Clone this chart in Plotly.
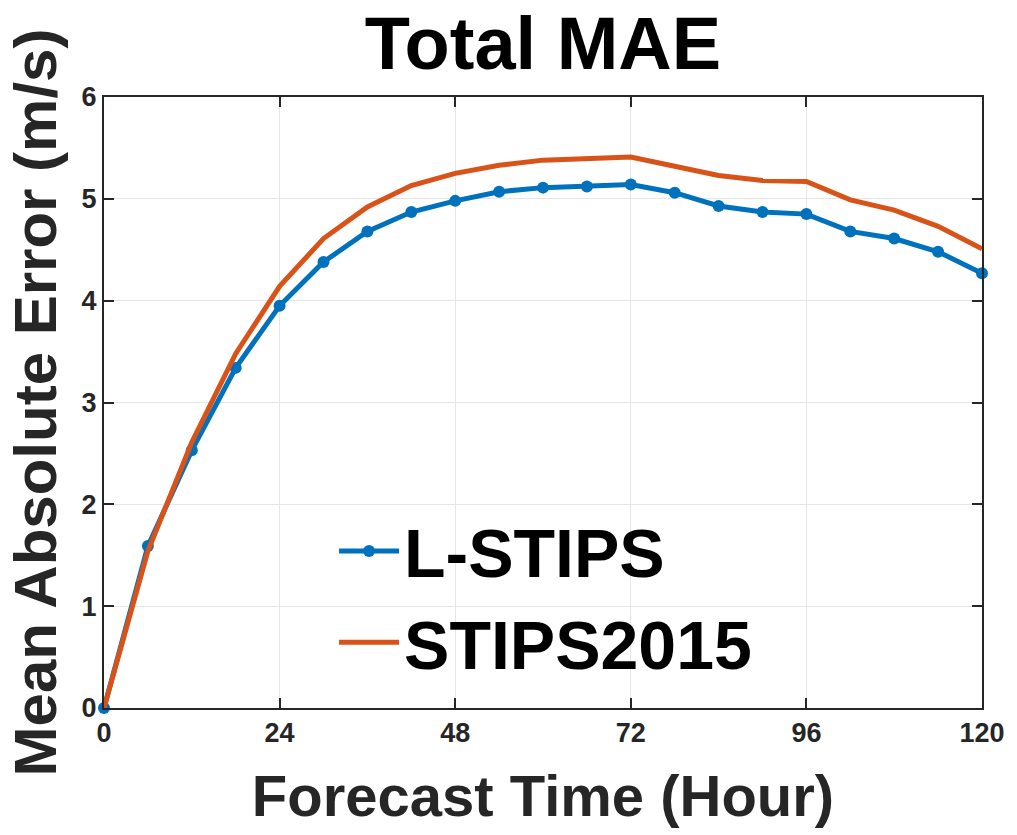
import plotly.graph_objects as go

hours = [0, 6, 12, 18, 24, 30, 36, 42, 48, 54, 60, 66, 72, 78, 84, 90, 96, 102, 108, 114, 120]
l_stips = [0, 1.59, 2.53, 3.34, 3.95, 4.38, 4.68, 4.87, 4.98, 5.07, 5.11, 5.12, 5.14,
           5.06, 4.93, 4.87, 4.85, 4.68, 4.61, 4.48, 4.27]
stips2015 = [0, 1.54, 2.61, 3.48, 4.14, 4.61, 4.92, 5.13, 5.25, 5.33, 5.38, 5.39, 5.41,
             5.32, 5.23, 5.18, 5.17, 4.99, 4.89, 4.73, 4.51]
x_ticks = [0, 24, 48, 72, 96, 120]
y_ticks = [0, 1, 2, 3, 4, 5, 6]

FONT = "Liberation Sans, Arial, sans-serif"

fig = go.Figure()
fig.add_trace(go.Scatter(
    x=hours, y=l_stips, name="L-STIPS", mode="lines+markers",
    line=dict(color="#0072BD", width=5), marker=dict(color="#0072BD", size=12),
    cliponaxis=False,
))
fig.add_trace(go.Scatter(
    x=hours, y=stips2015, name="STIPS2015", mode="lines",
    line=dict(color="#D95319", width=5),
    cliponaxis=False,
))

axis_common = dict(
    showline=True, linecolor="#262626", linewidth=2, mirror="ticks",
    ticks="inside", ticklen=10, tickwidth=1.5, tickcolor="#262626",
    showgrid=True, gridcolor="#e6e6e6", gridwidth=1, zeroline=False,
    tickfont=dict(family=FONT, size=27, color="#262626", weight="bold"),
)

fig.update_layout(
    width=1017, height=835,
    paper_bgcolor="white", plot_bgcolor="white",
    margin=dict(l=104, r=32, t=97, b=127),
    title=dict(text="<b>Total MAE</b>", x=0.5, xanchor="center", xref="paper",
               y=0.948, yanchor="middle",
               font=dict(family=FONT, size=74, color="black")),
    xaxis=dict(range=[0, 120], tickvals=x_ticks, ticktext=[str(v) for v in x_ticks],
               title=dict(text="<b>Forecast Time (Hour)</b>", standoff=28,
                          font=dict(family=FONT, size=58, color="#262626")),
               **axis_common),
    yaxis=dict(range=[0, 6], tickvals=y_ticks, ticktext=[str(v) for v in y_ticks],
               title=dict(text="<b>Mean Absolute Error (m/s)</b>", standoff=6,
                          font=dict(family=FONT, size=60, color="#262626")),
               **axis_common),
    legend=dict(x=0.262, y=0.34, xanchor="left", yanchor="top",
                bgcolor="rgba(0,0,0,0)", borderwidth=0,
                font=dict(family=FONT, size=68, color="black", weight="bold"),
                itemwidth=60),
    showlegend=True,
)

fig.write_html("out.html")
